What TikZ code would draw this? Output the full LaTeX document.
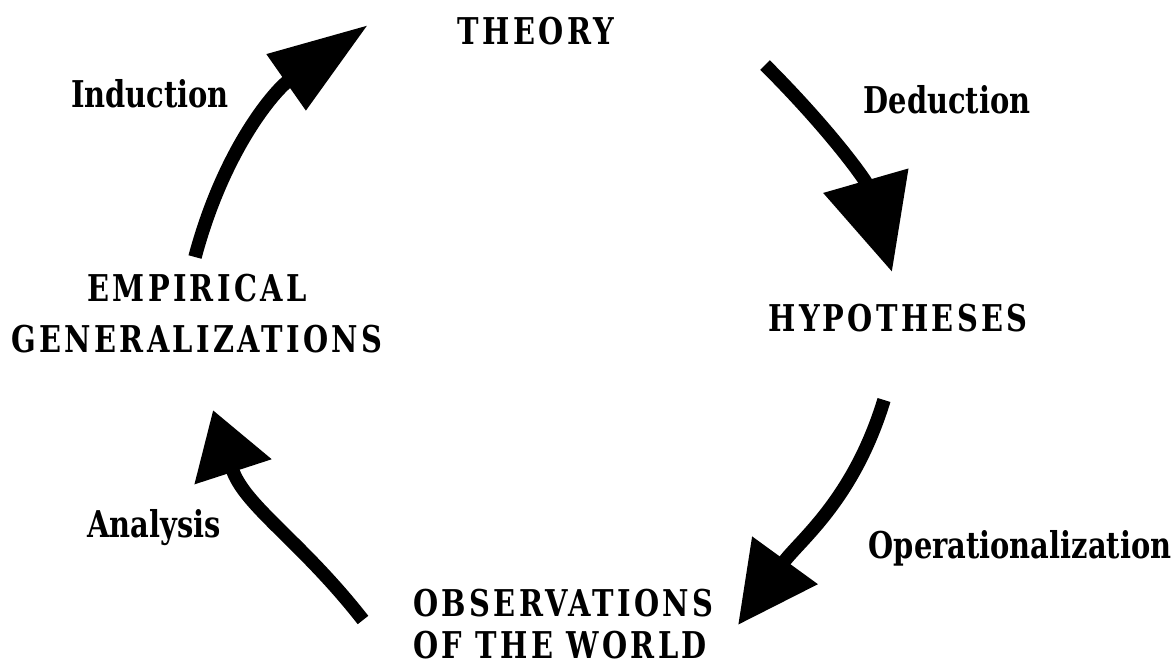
\documentclass[tikz,border=0pt]{standalone}
\usepackage{fontspec}
\newfontfamily\capsfont[LetterSpace=9, FakeStretch=0.87]{DejaVu Serif Condensed}
\newfontfamily\wordfont[FakeStretch=0.87]{DejaVu Serif Condensed}
\usetikzlibrary{arrows.meta}

\begin{document}
\begin{tikzpicture}[x=0.02cm, y=0.02cm,
    stage/.style={font=\capsfont\bfseries\fontsize{21}{24}\selectfont, inner sep=0pt},
    process/.style={font=\wordfont\bfseries\fontsize{21}{24}\selectfont, inner sep=0pt, anchor=base},
    cyclearrow/.style 2 args={line width=0.27cm, -{Triangle[length=#1, width=#2]}}]
    % Frame of the picture
    \useasboundingbox (0,0) rectangle (1176,-667);
    \fill[white] (0,0) rectangle (1176,-667);
    % Stages of the cycle
    \node[stage] (theory) at (536,-31.5) {THEORY};
    \node[stage] (hypotheses) at (898,-318.5) {HYPOTHESES};
    \node[stage, align=left, anchor=west] (observations) at (413,-624) {OBSERVATIONS\\OF THE WORLD};
    \node[stage, align=center] (empirical) at (197,-313.5) {EMPIRICAL\\[5.5pt]GENERALIZATIONS};
    % Processes between stages
    \node[process] (deduction) at (947,-113) {Deduction};
    \node[process] (operational) at (1020,-558) {Operationalization};
    \node[process] (analysis) at (154,-537) {Analysis};
    \node[process] (induction) at (150,-107) {Induction};
    % End points of the arrows
    \coordinate (dedTail) at (765,-65);
    \coordinate (dedTip) at (892,-272);
    \coordinate (opTail) at (884,-400);
    \coordinate (opTip) at (738,-625);
    \coordinate (anaTail) at (363,-620);
    \coordinate (anaTip) at (213,-410);
    \coordinate (indTail) at (195,-257);
    \coordinate (indTip) at (368,-25);
    % Arrows
    \draw[cyclearrow={1.9cm}{1.7cm}] (dedTail) to[out=-45, in=106] (dedTip);
    \draw[cyclearrow={1.6cm}{1.55cm}] (opTail) to[out=-107, in=54] (opTip);
    \draw[cyclearrow={1.3cm}{1.55cm}] (anaTail) to[out=128, in=-72] (anaTip);
    \draw[cyclearrow={2cm}{1.3cm}] (indTail) to[out=75, in=215] (indTip);
\end{tikzpicture}
\end{document}
